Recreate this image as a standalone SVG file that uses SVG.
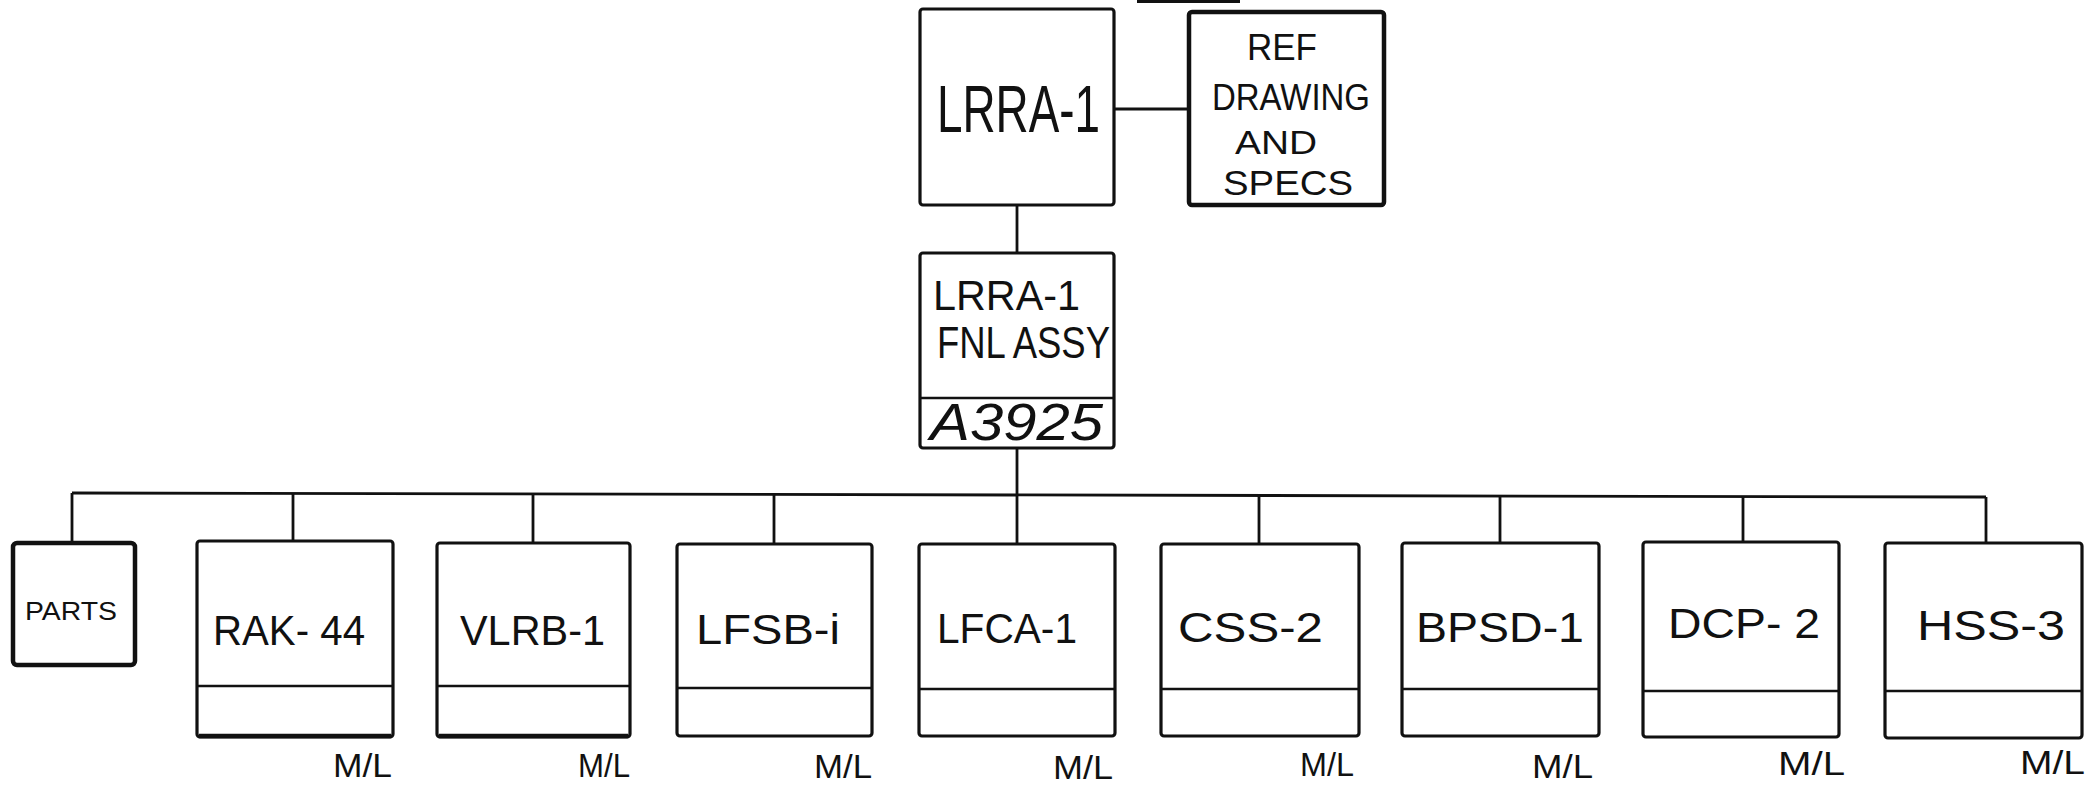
<svg xmlns="http://www.w3.org/2000/svg" width="2090" height="788" viewBox="0 0 2090 788">
<style>
.bx{fill:none;stroke:#111;stroke-width:3.2;stroke-linejoin:round}
.bxh{fill:none;stroke:#111;stroke-width:4.5;stroke-linejoin:round}
.dv{stroke:#111;stroke-width:2.6}
.bt{stroke:#111;stroke-width:4.5}
.ln{fill:none;stroke:#111;stroke-width:2.8}
text{font-family:"Liberation Sans","DejaVu Sans",sans-serif;fill:#111}
.lb{font-size:43px}
.ml{font-size:34px}
</style>
<rect width="2090" height="788" fill="#fff"/>
<g id="connectors">
<line class="ln" x1="1137" y1="1.5" x2="1240" y2="1.5" stroke-width="3.5"/>
<line class="ln" x1="1114" y1="109" x2="1189" y2="109"/>
<line class="ln" x1="1017" y1="205" x2="1017" y2="253"/>
<line class="ln" x1="1017" y1="448" x2="1017" y2="495"/>
<path class="ln" d="M72 493 L1986 497"/>
<line class="ln" x1="72" y1="493" x2="72" y2="543"/>
<line class="ln" x1="293" y1="493" x2="293" y2="541"/>
<line class="ln" x1="533" y1="494" x2="533" y2="543"/>
<line class="ln" x1="774" y1="494" x2="774" y2="544"/>
<line class="ln" x1="1017" y1="495" x2="1017" y2="544"/>
<line class="ln" x1="1259" y1="495" x2="1259" y2="544"/>
<line class="ln" x1="1500" y1="496" x2="1500" y2="543"/>
<line class="ln" x1="1743" y1="496" x2="1743" y2="542"/>
<line class="ln" x1="1986" y1="497" x2="1986" y2="543"/>
</g>
<g id="lrra1">
<rect class="bx" x="920" y="9" width="194" height="196" rx="3"/>
<text x="937" y="132" font-size="66" textLength="163" lengthAdjust="spacingAndGlyphs">LRRA-1</text>
</g>
<g id="ref">
<rect class="bxh" x="1189" y="12" width="195" height="193" rx="3"/>
<text x="1247" y="60" font-size="37" textLength="70" lengthAdjust="spacingAndGlyphs">REF</text>
<text x="1212" y="110" font-size="37" textLength="158" lengthAdjust="spacingAndGlyphs">DRAWING</text>
<text x="1235" y="154" font-size="33" textLength="82" lengthAdjust="spacingAndGlyphs">AND</text>
<text x="1223" y="195" font-size="35" textLength="130" lengthAdjust="spacingAndGlyphs">SPECS</text>
</g>
<g id="fnlassy">
<rect class="bx" x="920" y="253" width="194" height="195" rx="3"/>
<line class="dv" x1="920" y1="398" x2="1114" y2="398"/>
<text x="933" y="310" font-size="42" textLength="147" lengthAdjust="spacingAndGlyphs">LRRA-1</text>
<text x="937" y="358" font-size="44" textLength="173" lengthAdjust="spacingAndGlyphs">FNL ASSY</text>
<text x="930" y="440" font-size="52" font-style="italic" textLength="173" lengthAdjust="spacingAndGlyphs">A3925</text>
</g>
<g id="parts">
<rect class="bxh" x="13" y="543" width="122" height="122" rx="4"/>
<text x="25" y="620" font-size="25" textLength="92" lengthAdjust="spacingAndGlyphs">PARTS</text>
</g>
<g id="rak44">
<rect class="bx" x="197" y="541" width="196" height="196" rx="3"/>
<line class="dv" x1="197" y1="686" x2="393" y2="686"/>
<line class="bt" x1="199" y1="736" x2="391" y2="736"/>
<text class="lb" x="213" y="645" textLength="152" lengthAdjust="spacingAndGlyphs">RAK- 44</text>
<text class="ml" x="333" y="777" textLength="59" lengthAdjust="spacingAndGlyphs">M/L</text>
</g>
<g id="vlrb1">
<rect class="bx" x="437" y="543" width="193" height="194" rx="3"/>
<line class="dv" x1="437" y1="686" x2="630" y2="686"/>
<line class="bt" x1="439" y1="736" x2="628" y2="736"/>
<text class="lb" x="460" y="645" textLength="145" lengthAdjust="spacingAndGlyphs">VLRB-1</text>
<text class="ml" x="578" y="777" textLength="52" lengthAdjust="spacingAndGlyphs">M/L</text>
</g>
<g id="lfsb1">
<rect class="bx" x="677" y="544" width="195" height="192" rx="3"/>
<line class="dv" x1="677" y1="688" x2="872" y2="688"/>
<text class="lb" x="696" y="644" textLength="144" lengthAdjust="spacingAndGlyphs">LFSB-i</text>
<text class="ml" x="814" y="778" textLength="58" lengthAdjust="spacingAndGlyphs">M/L</text>
</g>
<g id="lfca1">
<rect class="bx" x="919" y="544" width="196" height="192" rx="3"/>
<line class="dv" x1="919" y1="689" x2="1115" y2="689"/>
<text class="lb" x="937" y="643" textLength="140" lengthAdjust="spacingAndGlyphs">LFCA-1</text>
<text class="ml" x="1053" y="779" textLength="60" lengthAdjust="spacingAndGlyphs">M/L</text>
</g>
<g id="css2">
<rect class="bx" x="1161" y="544" width="198" height="192" rx="3"/>
<line class="dv" x1="1161" y1="689" x2="1359" y2="689"/>
<text class="lb" x="1178" y="642" textLength="145" lengthAdjust="spacingAndGlyphs">CSS-2</text>
<text class="ml" x="1300" y="776" textLength="54" lengthAdjust="spacingAndGlyphs">M/L</text>
</g>
<g id="bpsd1">
<rect class="bx" x="1402" y="543" width="197" height="193" rx="3"/>
<line class="dv" x1="1402" y1="689" x2="1599" y2="689"/>
<text class="lb" x="1416" y="642" textLength="168" lengthAdjust="spacingAndGlyphs">BPSD-1</text>
<text class="ml" x="1532" y="778" textLength="61" lengthAdjust="spacingAndGlyphs">M/L</text>
</g>
<g id="dcp2">
<rect class="bx" x="1643" y="542" width="196" height="195" rx="3"/>
<line class="dv" x1="1643" y1="691" x2="1839" y2="691"/>
<text class="lb" x="1668" y="638" textLength="152" lengthAdjust="spacingAndGlyphs">DCP- 2</text>
<text class="ml" x="1778" y="775" textLength="67" lengthAdjust="spacingAndGlyphs">M/L</text>
</g>
<g id="hss3">
<rect class="bx" x="1885" y="543" width="197" height="195" rx="3"/>
<line class="dv" x1="1885" y1="691" x2="2082" y2="691"/>
<text class="lb" x="1917" y="640" textLength="148" lengthAdjust="spacingAndGlyphs">HSS-3</text>
<text class="ml" x="2020" y="774" textLength="65" lengthAdjust="spacingAndGlyphs">M/L</text>
</g>
</svg>
